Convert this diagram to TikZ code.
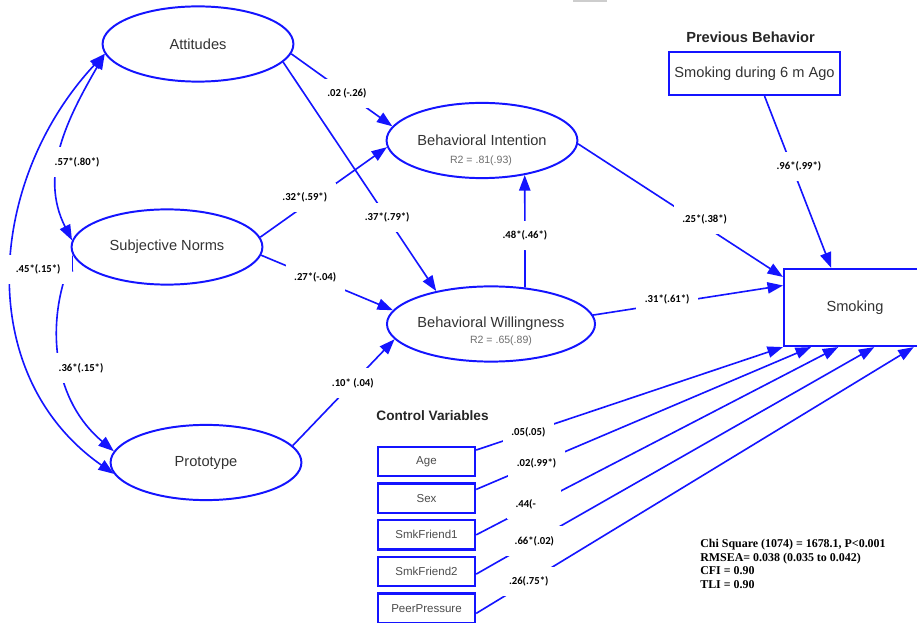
\documentclass[tikz,border=0pt]{standalone}
\usepackage{fontspec}
\setmainfont{Liberation Sans}
\newfontfamily\coeffont{Carlito}
\newfontfamily\statfont{Liberation Serif}
\usepackage{tikz}
\usetikzlibrary{positioning,shapes.geometric,arrows.meta}
\definecolor{lineblue}{RGB}{20,20,255}
\definecolor{rtwogrey}{RGB}{110,110,110}
\definecolor{markgrey}{RGB}{205,205,205}

\begin{document}
\begin{tikzpicture}[x=0.025cm, y=0.025cm,
    >={Triangle[length=11pt,width=8pt]},
    latent/.style={draw=lineblue, line width=1.4pt, ellipse, inner sep=0pt,
      minimum width=4.77cm, minimum height=1.88cm, text=black!80,
      font=\fontsize{10.4}{12}\selectfont},
    observed/.style={draw=lineblue, line width=1.4pt, rectangle, inner sep=0pt,
      text=black!80, font=\fontsize{10.4}{12}\selectfont},
    control/.style={draw=lineblue, line width=1.6pt, inner sep=0pt,
      minimum width=2.43cm, minimum height=0.73cm, text=black!70,
      font=\fontsize{8.2}{10}\selectfont},
    heading/.style={text=black!85, font=\bfseries\fontsize{10.4}{12}\selectfont},
    rtwo/.style={text=rtwogrey, font=\fontsize{7.5}{9}\selectfont},
    link/.style={draw=lineblue, line width=1.15pt, ->},
    twoway/.style={draw=lineblue, line width=1.15pt, <->},
    coef/.style={fill=white, inner xsep=6pt, inner ysep=7pt,
      font=\coeffont\bfseries\fontsize{7.6}{9}\selectfont}]
    \path[use as bounding box, fill=white] (0,0) rectangle (917,-623);
    \fill[markgrey] (573,0) rectangle (607,-2.2);
    % latent variables
    \node[latent] (att) at (198,-44) {Attitudes};
    \node[latent] (sn) at (167,-247) {Subjective Norms};
    \node[latent] (proto) at (206,-462.5) {Prototype};
    \node[latent] (bi) at (482,-140.5) {Behavioral Intention};
    \node[latent] (bw) at (491,-324) {Behavioral Willingness};
    \node[rtwo] (bir2) at (481,-160.5) {R2 = .81(.93)};
    \node[rtwo] (bwr2) at (501,-341) {R2 = .65(.89)};
    % observed variables
    \node[heading] (prevtitle) at (750.5,-37.5) {Previous Behavior};
    \node[observed, minimum width=4.28cm, minimum height=1.08cm] (prev) at (754.5,-73.5) {Smoking during 6 m Ago};
    \node[observed, minimum width=3.55cm, minimum height=1.93cm] (smk) at (855,-307.5) {Smoking};
    % control variables
    \node[heading, font=\bfseries\fontsize{9.7}{12}\selectfont] (ctrltitle) at (432.5,-416) {Control Variables};
    \node[control] (age) at (426.5,-461.5) {Age};
    \node[control, below=0.13cm of age] (sex) {Sex};
    \node[control, below=0.13cm of sex] (sfone) {SmkFriend1};
    \node[control, below=0.13cm of sfone] (sftwo) {SmkFriend2};
    \node[control, below=0.13cm of sftwo] (peer) {PeerPressure};
    % fit indices
    \node[anchor=north west, align=left, inner sep=0pt,
      font=\statfont\bfseries\fontsize{8.5}{9.7}\selectfont] (fit) at (700,-539)
      {Chi Square (1074) = 1678.1, P<0.001\\ RMSEA= 0.038 (0.035 to 0.042)\\ CFI = 0.90\\ TLI = 0.90};
    % covariances
    \draw[twoway] (att.186) to[out=240, in=117] node[coef, pos=0.585, xshift=13pt] (k1) {.57*(.80*)} (sn.176);
    \draw[twoway] (sn.185) to[out=250, in=140] node[coef, pos=0.53, xshift=13.5pt] (k2) {.36*(.15*)} (proto.173);
    \draw[twoway] (att.186) to[out=227, in=145, looseness=1.05] node[coef, pos=0.49, xshift=18.5pt, inner xsep=8.5pt] (k3) {.45*(.15*)} (proto.187);
    % paths to intention and willingness
    \draw[link] (att.-6) -- node[coef, pos=0.55] (c1) {.02 (-.26)} (bi.171);
    \draw[link] (att.-12) -- node[coef, pos=0.68] (c2) {.37*(.79*)} (bw.149);
    \draw[link] (sn.6) -- node[coef, pos=0.44, xshift=-8pt] (c3) {.32*(.59*)} (bi.184);
    \draw[link] (sn.-5) -- node[coef, pos=0.41] (c4) {.27*(-.04)} (bw.172);
    \draw[link] (proto.11) -- node[coef, pos=0.59] (c5) {.10* (.04)} (bw.189);
    \draw[link] (bw.47) -- node[coef, pos=0.46] (c6) {.48*(.46*)} (bi.-39);
    % paths to smoking
    \draw[link] (bi.-2) -- node[coef, pos=0.57, xshift=7pt] (c7) {.25*(.38*)} (smk.157);
    \draw[link] (bw.5) -- node[coef, pos=0.39, yshift=3pt] (c8) {.31*(.61*)} (smk.163);
    \draw[link] (prev.-66) -- node[coef, pos=0.41, xshift=5pt] (c9) {.96*(.99*)} (smk.121);
    \foreach \v/\a/\t/\p/\c in {age/13/south west/0.17/{.05(.05)},
        sex/10/222/0.18/{.02(.99*)}, sfone/0/247/0.16/{.44(-\phantom{.00)}},
        sftwo/-3/296/0.146/{.66*(.02)}, peer/-6/326/0.12/{.26(.75*)}}
      \draw[link] (\v.\a) -- node[coef, pos=\p] (c\v) {\c} (smk.\t);
\end{tikzpicture}
\end{document}
